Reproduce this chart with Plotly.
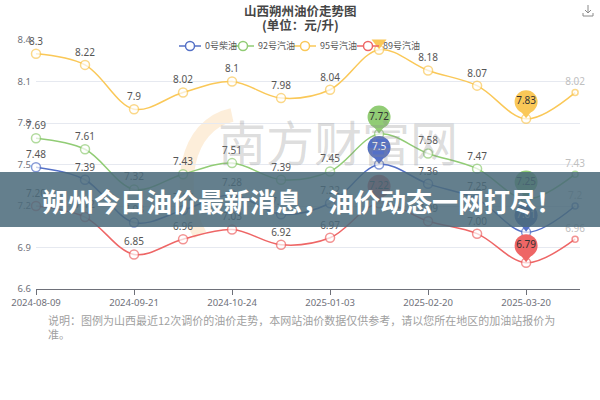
import plotly.graph_objects as go

dates = ["2024-08-09", "2024-08-23", "2024-09-21", "2024-10-09", "2024-10-24",
         "2024-11-07", "2025-01-03", "2025-01-17", "2025-02-20", "2025-03-06",
         "2025-03-20", "2025-04-03"]
tick_dates = ["2024-08-09", "2024-09-21", "2024-10-24", "2025-01-03", "2025-02-20", "2025-03-20"]

diesel0 = [7.48, 7.39, 7.08, 7.17, 7.28, 7.14, 7.22, 7.50, 7.36, 7.25, 7.01, 7.20]
gas92 = [7.69, 7.61, 7.32, 7.43, 7.51, 7.39, 7.45, 7.72, 7.58, 7.47, 7.25, 7.43]
gas95 = [8.30, 8.22, 7.90, 8.02, 8.10, 7.98, 8.04, 8.33, 8.18, 8.07, 7.83, 8.02]
gas89 = [7.20, 7.12, 6.85, 6.96, 7.03, 6.92, 6.97, 7.22, 7.09, 7.00, 6.79, 6.96]

series_names = ["0号柴油", "92号汽油", "95号汽油", "89号汽油"]
series_vals = [diesel0, gas92, gas95, gas89]
series_cols = ["#5470c6", "#91cc75", "#fac858", "#ee6666"]

Y_MIN, Y_MAX = 6.6, 8.4
W, H = 600, 400
MT, MB, ML, MR = 40, 111, 36, 20
plot_h = H - MT - MB
plot_w = W - ML - MR
dpp = (Y_MAX - Y_MIN) / plot_h  # data units per pixel


def xp(px):
    return (px - ML) / plot_w


def yp(py):
    return (H - MB - py) / plot_h


fig = go.Figure()

draw_order = [2, 1, 0, 3]
for idx in draw_order:
    name, vals, col = series_names[idx], series_vals[idx], series_cols[idx]
    imax = vals.index(max(vals))
    imin = vals.index(min(vals))
    texts, tcols = [], []
    n = len(vals)
    for i, v in enumerate(vals):
        if i in (imax, imin):
            texts.append("")
        elif i == n - 1:
            texts.append(f"{v:g}")
        else:
            s = f"{v:.2f}"
            if s.endswith("0") and s not in ("7.00", "7.20"):
                s = s[:-1]
            texts.append(s)
        tcols.append("#c0c0c0" if i == n - 1 else "#555555")
    sizes = [9] * (n - 1) + [6]
    fig.add_trace(go.Scatter(
        x=dates, y=vals, name=name, mode="lines+markers+text",
        line=dict(color=col, width=1.5, shape="spline", smoothing=1.0),
        marker=dict(symbol="circle", size=sizes, color="white",
                    line=dict(color=col, width=1.5)),
        text=texts, textposition="top center", cliponaxis=False,
        textfont=dict(size=10, color=tcols, family="Noto Sans, sans-serif"),
        showlegend=False, hoverinfo="x+y",
    ))

# pins for max/min
for name, vals, col in zip(series_names, series_vals, series_cols):
    imax = vals.index(max(vals))
    imin = vals.index(min(vals))
    for i in (imax, imin):
        v = vals[i]
        fig.add_trace(go.Scatter(
            x=[dates[i]], y=[v + 7 * dpp], mode="markers", cliponaxis=False,
            marker=dict(symbol="triangle-down", size=13, color=col, line=dict(width=0)),
            showlegend=False, hoverinfo="skip"))
        fig.add_trace(go.Scatter(
            x=[dates[i]], y=[v + 17 * dpp], mode="markers+text", cliponaxis=False,
            marker=dict(symbol="circle", size=23, color=col, line=dict(width=0)),
            text=[f"{v:g}"], textposition="middle center",
            textfont=dict(size=10, color="white" if col == "#5470c6" else "#333333",
                          family="Noto Sans, sans-serif"),
            showlegend=False, hoverinfo="skip"))

fig.update_layout(
    width=W, height=H,
    margin=dict(t=MT, b=MB, l=ML, r=MR, autoexpand=False),
    paper_bgcolor="white", plot_bgcolor="white",
    showlegend=False,
    font=dict(family="Noto Sans CJK SC, Noto Sans, sans-serif"),
)

fig.update_xaxes(
    type="category", range=[0, 11.1], automargin=False,
    tickmode="array", tickvals=tick_dates, ticktext=tick_dates,
    ticks="outside", ticklen=5, tickcolor="#6e7079",
    showline=True, linecolor="#6e7079", linewidth=1,
    showgrid=False, zeroline=False,
    tickfont=dict(size=9.5, color="#6e7079", family="Noto Sans, sans-serif"),
)
fig.update_yaxes(
    range=[Y_MIN, Y_MAX], tickmode="array", automargin=False,
    tickvals=[6.6, 6.9, 7.2, 7.5, 7.8, 8.1, 8.4],
    ticktext=["6.6", "6.9", "7.2", "7.5", "7.8", "8.1", "8.4"],
    showgrid=True, gridcolor="#e6e9f0", gridwidth=1,
    zeroline=False, showline=False, ticks="", ticklabelstandoff=4,
    tickfont=dict(size=9.5, color="#6e7079", family="Noto Sans, sans-serif"),
)

# manual legend
leg_x = [190, 243, 305, 368]
leg_y = 46
for name, col, lx in zip(series_names, series_cols, leg_x):
    fig.add_shape(type="line", xref="paper", yref="paper",
                  x0=xp(lx - 11), x1=xp(lx + 11), y0=yp(leg_y), y1=yp(leg_y),
                  line=dict(color=col, width=1.5), layer="above")
    fig.add_shape(type="circle", xref="paper", yref="paper",
                  x0=xp(lx - 4.5), x1=xp(lx + 4.5), y0=yp(leg_y - 4.5), y1=yp(leg_y + 4.5),
                  line=dict(color=col, width=1.5), fillcolor="white", layer="above")
    fig.add_annotation(text=name, xref="paper", yref="paper",
                       x=xp(lx + 13), y=yp(leg_y), xanchor="left", yanchor="middle",
                       showarrow=False,
                       font=dict(size=9, color="#555555", family="Noto Sans CJK SC"))

# title (two lines)
fig.add_annotation(
    text="<b>山西朔州油价走势图</b>",
    xref="paper", yref="paper", x=xp(300), y=yp(10),
    xanchor="center", yanchor="middle", showarrow=False,
    font=dict(size=12.5, color="#464646", family="Noto Sans CJK SC"),
)
fig.add_annotation(
    text="<b>(单位：元/升)</b>",
    xref="paper", yref="paper", x=xp(300), y=yp(24),
    xanchor="center", yanchor="middle", showarrow=False,
    font=dict(size=12.5, color="#464646", family="Noto Sans CJK SC"),
)

# download icon (top right)
fig.add_shape(type="path", xref="paper", yref="paper",
              path=f"M {xp(588)} {yp(5)} L {xp(588)} {yp(13)} M {xp(585)} {yp(10)} L {xp(588)} {yp(13)} L {xp(591)} {yp(10)} "
                   f"M {xp(583)} {yp(13)} L {xp(583)} {yp(16)} L {xp(593)} {yp(16)} L {xp(593)} {yp(13)}",
              line=dict(color="#8a8a8a", width=1))

# watermark
fig.add_shape(type="path", xref="paper", yref="paper",
              path=f"M {xp(232)} {yp(115)} C {xp(185)} {yp(125)} {xp(175)} {yp(190)} {xp(200)} {yp(235)}",
              line=dict(color="rgba(250,205,150,0.35)", width=14), layer="below")
fig.add_annotation(
    text="南方财富网", xref="paper", yref="paper",
    x=xp(338), y=yp(140),
    showarrow=False, font=dict(size=48, color="rgba(140,140,140,0.3)", family="Noto Sans CJK SC"),
)

# note
fig.add_annotation(
    text="说明：图例为山西最近12次调价的油价走势，本网站油价数据仅供参考，请以您所在地区的加油站报价为<br>准。",
    xref="paper", yref="paper", x=xp(46), y=yp(310),
    xanchor="left", yanchor="top", align="left", showarrow=False,
    font=dict(size=11, color="#a0a0a0", family="Noto Sans CJK SC"),
)

# banner
fig.add_shape(type="rect", xref="paper", yref="paper",
              x0=xp(0), x1=xp(W), y0=yp(227), y1=yp(172),
              fillcolor="rgba(74,106,122,0.86)", line=dict(width=0), layer="above")
fig.add_annotation(
    text="<b>朔州今日油价最新消息，油价动态一网打尽！</b>",
    xref="paper", yref="paper", x=xp(302), y=yp(200),
    showarrow=False, font=dict(size=26, color="white", family="Noto Sans CJK SC"),
)

fig.write_html("out.html", config={"displayModeBar": False},
               post_script="document.body.style.margin='0';document.body.style.overflow='hidden';")
